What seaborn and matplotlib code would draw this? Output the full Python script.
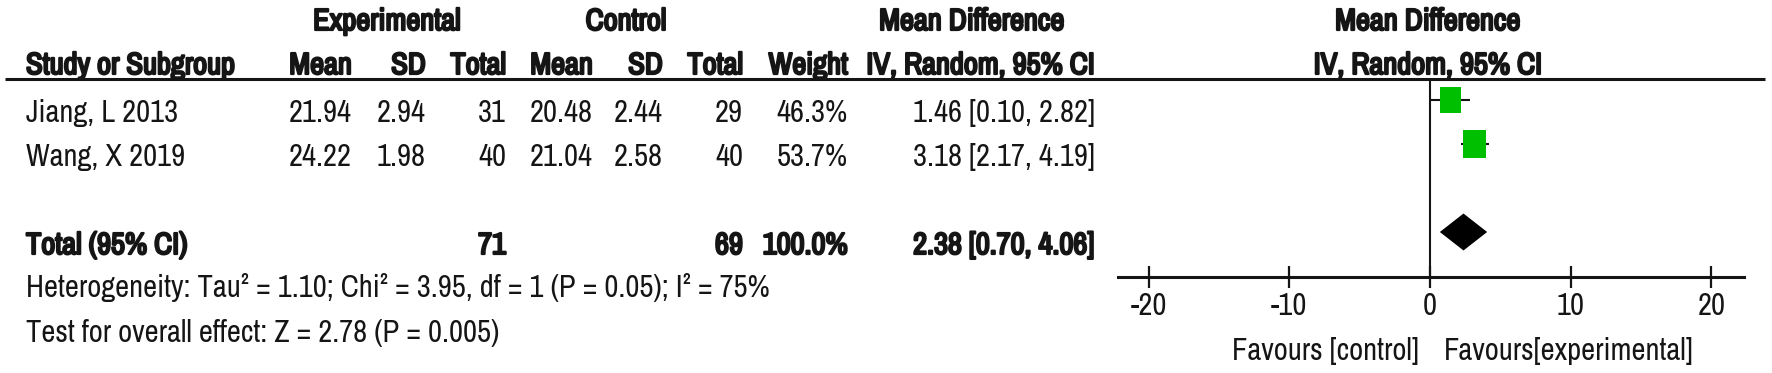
import numpy as np
import pandas as pd
import seaborn as sns
import matplotlib
matplotlib.use('Agg')
import matplotlib.pyplot as plt
import matplotlib.patheffects as pe
from matplotlib.path import Path
from matplotlib.markers import MarkerStyle

sns.set_theme(style="white")
plt.rcParams['font.family'] = ['Archivo Narrow', 'DejaVu Sans']

# data
studies = ['Jiang, L 2013', 'Wang, X 2019']
exp_mean = [21.94, 24.22]
exp_sd = [2.94, 1.98]
exp_n = [31, 40]
ctl_mean = [20.48, 21.04]
ctl_sd = [2.44, 2.58]
ctl_n = [29, 40]
weight = [46.3, 53.7]
md = [1.46, 3.18]
ci_lo = [0.10, 2.17]
ci_hi = [2.82, 4.19]

total_exp_n = 71
total_ctl_n = 69
total_weight = 100.0
total_md = 2.38
total_lo = 0.70
total_hi = 4.06

heterogeneity = 'Heterogeneity: Tau\u00b2 = 1.10; Chi\u00b2 = 3.95, df = 1 (P = 0.05); I\u00b2 = 75%'
overall = 'Test for overall effect: Z = 2.78 (P = 0.005)'
xticks = [-20, -10, 0, 10, 20]
favours_left = 'Favours [control]'
favours_right = 'Favours[experimental]'

W, H = 1772, 373
TXT = '#151515'
GREEN = '#00BF00'
FS = 22

fig = plt.figure(figsize=(W / 100, H / 100), dpi=100)

# text layer in pixel coords
tx = fig.add_axes([0, 0, 1, 1])
tx.set_xlim(0, W)
tx.set_ylim(H, 0)
tx.axis('off')

# forest axes: spans from header underline (y=79) to the x axis (y=277)
top_px, bot_px, row_px, row0_px = 79, 277, 44, 100
left_px, right_px, zero_px, unit_px = 1118, 1744, 1430, 14.07
ax = fig.add_axes([left_px / W, 1 - bot_px / H, (right_px - left_px) / W, (bot_px - top_px) / H])
ax.set_xlim((left_px - zero_px) / unit_px, (right_px - zero_px) / unit_px)
ax.set_ylim((bot_px - row0_px) / row_px, (top_px - row0_px) / row_px)
ax.patch.set_alpha(0)

# the narrow family has no bold face here, so thicken strokes instead
bold_fx = [pe.withStroke(linewidth=1.6, foreground=TXT)]

def t(x, y, s, ha='right', bold=False):
    tx.text(x, y, s, ha=ha, va='baseline', fontsize=FS, color=TXT,
            path_effects=bold_fx if bold else None)

# headers
t(387, 30, 'Experimental', ha='center', bold=True)
t(626, 30, 'Control', ha='center', bold=True)
t(972, 30, 'Mean Difference', ha='center', bold=True)
t(1428, 30, 'Mean Difference', ha='center', bold=True)
cols = [352, 426, 506, 593, 663, 743, 848]
for x, s in zip(cols, ['Mean', 'SD', 'Total', 'Mean', 'SD', 'Total', 'Weight']):
    t(x, 74, s, bold=True)
t(26, 74, 'Study or Subgroup', ha='left', bold=True)
t(1095, 74, 'IV, Random, 95% CI', bold=True)
t(1428, 74, 'IV, Random, 95% CI', ha='center', bold=True)
tx.plot([5, 1765], [79, 79], color=TXT, lw=2.2, solid_capstyle='butt')

# study rows
for i, name in enumerate(studies):
    y = 122 + row_px * i
    t(26, y, name, ha='left')
    vals = [f'{exp_mean[i]:.2f}', f'{exp_sd[i]:.2f}', f'{exp_n[i]}',
            f'{ctl_mean[i]:.2f}', f'{ctl_sd[i]:.2f}', f'{ctl_n[i]}', f'{weight[i]:.1f}%']
    for x, s in zip(cols, vals):
        t(x, y, s)
    t(1095, y, f'{md[i]:.2f} [{ci_lo[i]:.2f}, {ci_hi[i]:.2f}]')

total_row = 3
y = 122 + row_px * total_row
t(26, y, 'Total (95% CI)', ha='left', bold=True)
t(cols[2], y, str(total_exp_n), bold=True)
t(cols[5], y, str(total_ctl_n), bold=True)
t(cols[6], y, f'{total_weight:.1f}%', bold=True)
t(1095, y, f'{total_md:.2f} [{total_lo:.2f}, {total_hi:.2f}]', bold=True)
t(26, 297, heterogeneity, ha='left')
t(26, 342, overall, ha='left')
t(1419, 360, favours_left)
t(1444, 360, favours_right, ha='left')

# forest marks
df = pd.DataFrame({'md': md, 'lo': ci_lo, 'hi': ci_hi, 'weight': weight,
                   'row': np.arange(len(studies))})
ax.axvline(0, color=TXT, lw=1.5, zorder=1)
ax.hlines(df['row'], df['lo'], df['hi'], color=TXT, lw=1.5, zorder=2)
box = Path([(-0.41, -0.5), (0.41, -0.5), (0.41, 0.5), (-0.41, 0.5), (-0.41, -0.5)],
           [Path.MOVETO, Path.LINETO, Path.LINETO, Path.LINETO, Path.CLOSEPOLY])
sns.scatterplot(data=df, x='md', y='row', size='weight', sizes=(340, 420),
                marker=MarkerStyle(box), color=GREEN, linewidth=0,
                legend=False, ax=ax, zorder=3)
half = 0.42
ax.fill([total_lo, total_md, total_hi, total_md],
        [total_row, total_row - half, total_row, total_row + half],
        color='black', lw=0, zorder=3)

sns.despine(ax=ax, left=True)
ax.spines['bottom'].set_linewidth(2.2)
ax.spines['bottom'].set_color(TXT)
ax.set_xticks(xticks)
ax.set_xticklabels([str(v) for v in xticks])
ax.set_yticks([])
ax.set_xlabel('')
ax.set_ylabel('')
ax.tick_params(axis='x', direction='inout', length=16, width=1.6, color=TXT,
               labelsize=FS, labelcolor=TXT, pad=2.5, bottom=True)

fig.savefig('out.png', dpi=100)
